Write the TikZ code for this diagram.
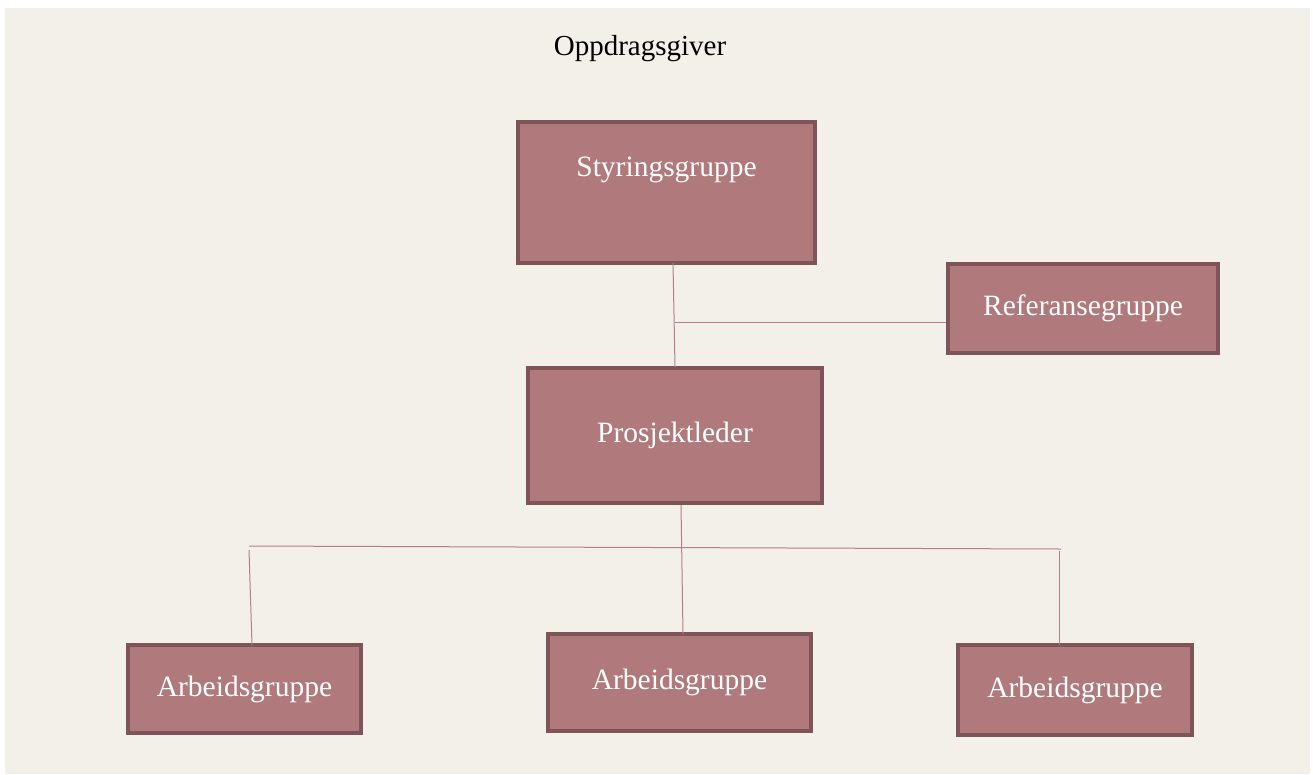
\documentclass[tikz,border=0pt]{standalone}
\usepackage{fontspec}
\setmainfont{Liberation Serif}
\usepackage{tikz}

\definecolor{paper}{HTML}{F2F0E9}
\definecolor{boxfill}{HTML}{B07A7D}
\definecolor{boxline}{HTML}{7F5459}
\definecolor{wire}{HTML}{B97D86}

\begin{document}
\begin{tikzpicture}[x=1pt,y=-1pt]
    \tikzstyle{box}=[draw=boxline, fill=boxfill, line width=3.2pt, inner sep=0pt]
    \tikzstyle{boxtext}=[text=white, font=\fontsize{29.5}{33}\selectfont, inner sep=0pt]
    \tikzstyle{wire}=[draw=wire, line width=1pt]
    \useasboundingbox (0,0) rectangle (1313,774);
    \fill [paper] (5,8) rectangle (1310,774);
    \node (giver) [font=\fontsize{29}{33}\selectfont, inner sep=0pt] at (640,49) {Oppdragsgiver};
    % boxes
    \node (styring) [box, minimum width=297, minimum height=141] at (666.5,192.5) {};
    \node [boxtext] at (666.5,170) {Styringsgruppe};
    \node (referanse) [box, boxtext, minimum width=270, minimum height=89] at (1083,308.5) {Referansegruppe};
    \node (leder) [box, boxtext, minimum width=294, minimum height=135] at (675,435.5) {Prosjektleder};
    \node (arbeidA) [box, boxtext, minimum width=233, minimum height=88] at (244.5,689) {Arbeidsgruppe};
    \node (arbeidB) [box, boxtext, minimum width=263, minimum height=97] at (679.5,682.5) {Arbeidsgruppe};
    \node (arbeidC) [box, boxtext, minimum width=234, minimum height=90] at (1075,690) {Arbeidsgruppe};
    % connectors
    \coordinate (joinR) at (675,322);
    \coordinate (busL) at (249,546);
    \coordinate (busR) at (1061,549);
    \coordinate (dropL) at (249,550);
    \coordinate (dropR) at (1059,551);
    \draw [wire] (673,263) -- (675,367);
    \draw [wire] (joinR) -- (referanse.west |- joinR);
    \draw [wire] (681,505) -- (683,634);
    \draw [wire] (busL) -- (busR);
    \draw [wire] (dropL) -- (252,645);
    \draw [wire] (dropR) -- (1059,645);
\end{tikzpicture}
\end{document}
